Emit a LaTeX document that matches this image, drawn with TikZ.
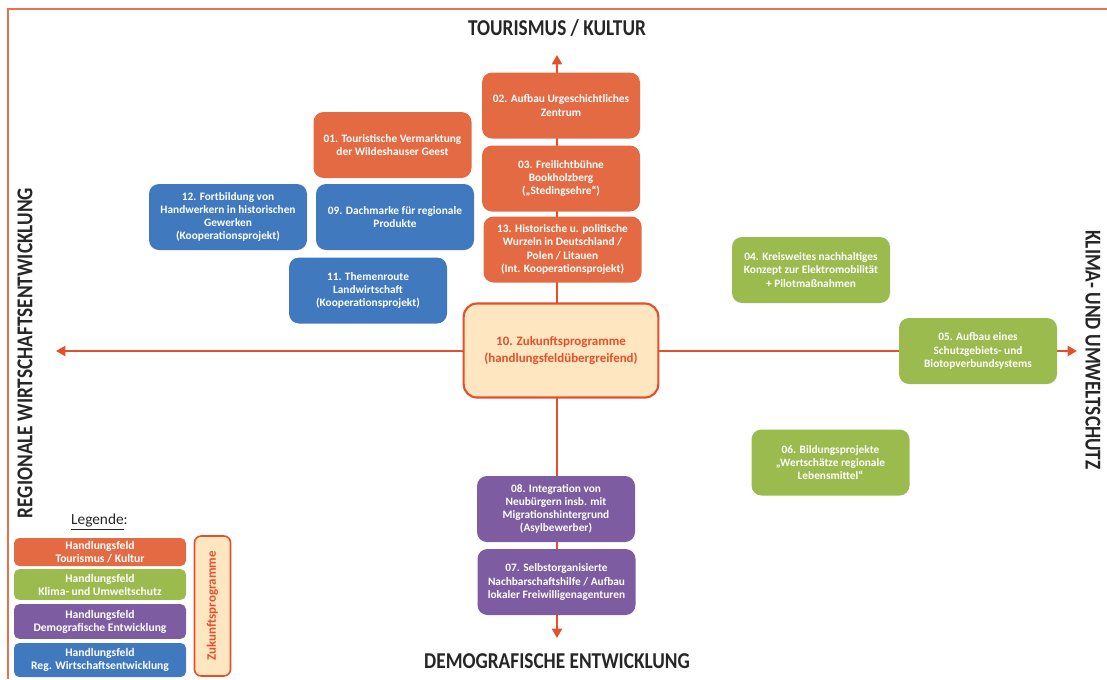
\documentclass[tikz,border=0pt]{standalone}
\usepackage{fontspec}
\setmainfont{Carlito}
\newfontfamily\headfont[FakeStretch=0.85]{Carlito Bold}
\usetikzlibrary{arrows.meta}
\definecolor{cOrange}{HTML}{E46A43}
\definecolor{cBlue}{HTML}{4079BE}
\definecolor{cGreen}{HTML}{9BBB4F}
\definecolor{cPurple}{HTML}{7D5CA2}
\definecolor{cLight}{HTML}{FDE6C0}
\definecolor{cAxis}{HTML}{E5502C}
\definecolor{cFrame}{HTML}{E8734A}
\definecolor{cTitle}{HTML}{262626}
\tikzset{
  field/.style={rounded corners=7.5pt, minimum width=118.5pt, minimum height=49.5pt,
    inner sep=1pt, align=center, text=white, font=\bfseries\fontsize{8.5}{9.9}\selectfont},
  tour/.style={field, fill=cOrange},
  clim/.style={field, fill=cGreen},
  demo/.style={field, fill=cPurple},
  econ/.style={field, fill=cBlue},
  axisline/.style={draw=cAxis, line width=1.5pt, {Triangle[length=7pt,width=7.5pt]}-{Triangle[length=7pt,width=7.5pt]}},
  heading/.style={text=cTitle, font=\headfont\fontsize{17}{19}\selectfont},
  legbox/.style={rounded corners=4pt, minimum width=129pt, inner sep=0pt, align=center,
    text=white, font=\bfseries\fontsize{8.7}{9.7}\selectfont},
}
\begin{document}
\begin{tikzpicture}[x=0.75pt,y=-0.75pt]
\useasboundingbox (0,0) rectangle (1107,679);
% frame on top and left
\draw[cFrame, line width=1.5pt] (8,679) -- (8,9) -- (1107,9);

% axis ends
\coordinate (N) at (557,55);
\coordinate (S) at (557,638);
\coordinate (W) at (56,351);
\coordinate (E) at (1077,351);
\draw[axisline] (N) -- (S);
\draw[axisline] (W) -- (E);

% axis headings
\node[heading] (hTop) at (557,28) {TOURISMUS / KULTUR};
\node[heading] (hBottom) at (557,661) {DEMOGRAFISCHE ENTWICKLUNG};
\node[heading, rotate=90] (hLeft) at (25,353) {REGIONALE WIRTSCHAFTSENTWICKLUNG};
\node[heading, rotate=-90] (hRight) at (1093,350) {KLIMA- UND UMWELTSCHUTZ};

% Tourismus / Kultur
\node[tour] (p02) at (561,105.5) {02. Aufbau Urgeschichtliches\\Zentrum};
\node[tour] (p01) at (392.5,145) {01. Touristische Vermarktung\\der Wildeshauser Geest};
\node[tour] (p03) at (561,178.5) {03. Freilichtbühne\\Bookholzberg\\(„Stedingsehre“)};
\node[tour] (p13) at (562.5,249.5) {13. Historische u. politische\\Wurzeln in Deutschland /\\Polen / Litauen\\(Int. Kooperationsprojekt)};

% Regionale Wirtschaftsentwicklung
\node[econ] (p12) at (228,217) {12. Fortbildung von\\Handwerkern in historischen\\Gewerken\\(Kooperationsprojekt)};
\node[econ] (p09) at (395,217) {09. Dachmarke für regionale\\Produkte};
\node[econ] (p11) at (368,290.5) {11. Themenroute\\Landwirtschaft\\(Kooperationsprojekt)};

% Zukunftsprogramme
\node[rounded corners=10pt, fill=cLight, draw=cAxis, line width=1.6pt,
  minimum width=146pt, minimum height=70.5pt, align=center, text=cAxis,
  font=\bfseries\fontsize{9.7}{12.5}\selectfont] (p10) at (561,350.5)
  {10. Zukunftsprogramme\\(handlungsfeldübergreifend)};

% Klima- und Umweltschutz
\node[clim] (p04) at (811,270) {04. Kreisweites nachhaltiges\\Konzept zur Elektromobilität\\+ Pilotmaßnahmen};
\node[clim] (p05) at (978,351) {05. Aufbau eines\\Schutzgebiets- und\\Biotopverbundsystems};
\node[clim] (p06) at (830.5,462.5) {06. Bildungsprojekte\\„Wertschätze regionale\\Lebensmittel“};

% Demografische Entwicklung
\node[demo] (p08) at (556,509) {08. Integration von\\Neubürgern insb. mit\\Migrationshintergrund\\(Asylbewerber)};
\node[demo] (p07) at (556.5,582) {07. Selbstorganisierte\\Nachbarschaftshilfe / Aufbau\\lokaler Freiwilligenagenturen};

% legend
\node[text=cTitle, font=\fontsize{11.5}{13}\selectfont] (legTitle) at (99.5,522) {\underline{Legende}:};
\node[legbox, fill=cOrange, minimum height=21pt] (legT) at (100,552) {Handlungsfeld\\Tourismus / Kultur};
\node[legbox, fill=cGreen, minimum height=23pt] (legK) at (100,584.5) {Handlungsfeld\\Klima- und Umweltschutz};
\node[legbox, fill=cPurple, minimum height=26pt] (legD) at (100,621.5) {Handlungsfeld\\Demografische Entwicklung};
\node[legbox, fill=cBlue, minimum height=25.5pt] (legW) at (100,660) {Handlungsfeld\\Reg. Wirtschaftsentwicklung};
\node[rounded corners=5pt, fill=cLight, draw=cAxis, line width=1.2pt, rotate=90,
  minimum width=105pt, minimum height=27pt, inner sep=0pt, text=cAxis,
  font=\bfseries\fontsize{9.7}{10}\selectfont] (legZ) at (212.5,606) {Zukunftsprogramme};
\end{tikzpicture}
\end{document}
